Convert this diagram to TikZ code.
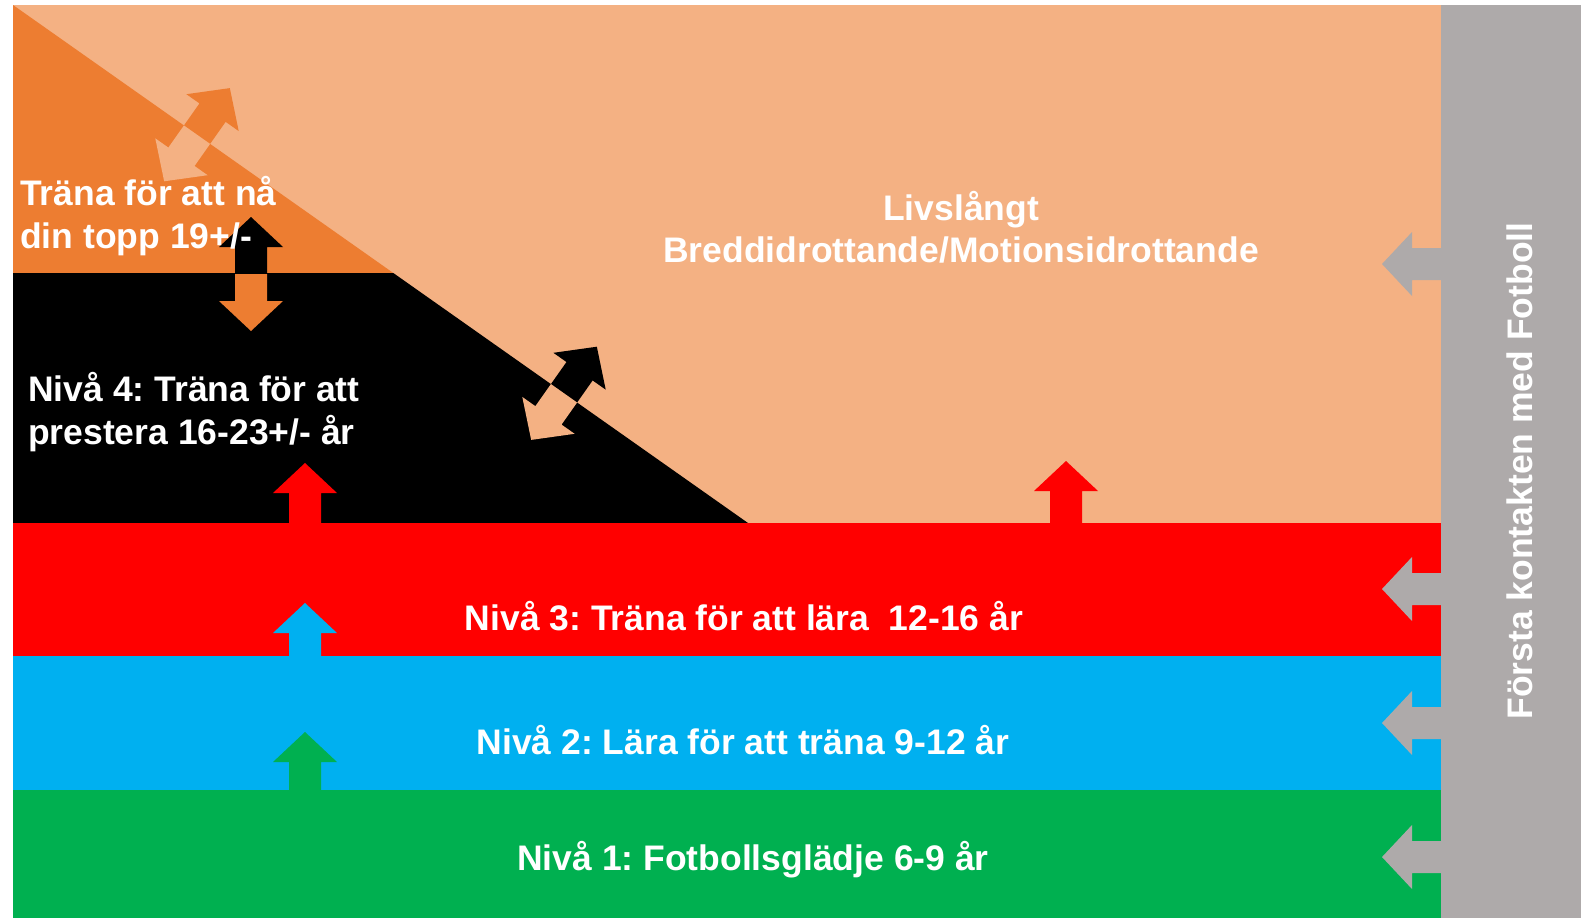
\documentclass[tikz,border=0pt]{standalone}
\usepackage{fontspec}
\setmainfont{Liberation Sans}
\frenchspacing
\definecolor{peach}{HTML}{F4B183}
\definecolor{dorange}{HTML}{ED7D31}
\definecolor{fred}{HTML}{FF0000}
\definecolor{fblue}{HTML}{00B0F0}
\definecolor{fgreen}{HTML}{00B050}
\definecolor{fgray}{HTML}{AEAAAA}
\tikzset{
  pics/uparr/.style={code={\fill[#1] (0,0) -- (32,30) -- (16,30) -- (16,90) -- (-16,90) -- (-16,30) -- (-32,30) -- cycle;}},
  pics/dblarr/.style 2 args={code={
    \fill[#1] (0,-57) -- (32,-27) -- (16,-27) -- (16,0) -- (-16,0) -- (-16,-27) -- (-32,-27) -- cycle;
    \fill[#2] (0,57) -- (32,27) -- (16,27) -- (16,0) -- (-16,0) -- (-16,27) -- (-32,27) -- cycle;}},
  lbl/.style={text=white, font=\bfseries\fontsize{35.5}{43}\selectfont, inner sep=0pt},
}
\begin{document}
\begin{tikzpicture}[x=1pt,y=-1pt]
\useasboundingbox (0,0) rectangle (1581,918);
\fill[white] (0,0) rectangle (1581,918);
% bands
\fill[peach] (13,5) rectangle (1441,523);
\fill[dorange] (13,5) -- (393.3,273) -- (13,273) -- cycle;
\fill[black] (13,273) -- (393.3,273) -- (748,523) -- (13,523) -- cycle;
\fill[fred] (13,523) rectangle (1441,656);
\fill[fblue] (13,656) rectangle (1441,790);
\fill[fgreen] (13,790) rectangle (1441,918);
% up arrows
\pic at (305,463) {uparr=fred};
\pic at (1066,461) {uparr=fred};
\pic at (305,603) {uparr=fblue};
\pic at (305,732) {uparr=fgreen};
% gray band and left arrows
\fill[fgray] (1441,5) rectangle (1581,918);
\pic[rotate=90] at (1382,264) {uparr=fgray};
\pic[rotate=90] at (1382,589) {uparr=fgray};
\pic[rotate=90] at (1382,723) {uparr=fgray};
\pic[rotate=90] at (1382,857) {uparr=fgray};
% double arrows
\pic at (251,274) {dblarr={black}{dorange}};
\pic[rotate=-35.17] at (197,134.7) {dblarr={dorange}{peach}};
\pic[rotate=-35.17] at (564,393.3) {dblarr={black}{peach}};
% texts
\node[lbl, anchor=base west] (t1a) at (20,205) {Träna för att nå};
\node[lbl, anchor=base west] (t1b) at (20,248) {din topp 19+/-};
\node[lbl, anchor=base] (liv1) at (961,220) {Livslångt};
\node[lbl, anchor=base] (liv2) at (961,262) {Breddidrottande/Motionsidrottande};
\node[lbl, anchor=base west] (n4a) at (28,401) {Nivå 4: Träna för att};
\node[lbl, anchor=base west] (n4b) at (28,444) {prestera 16-23+/- år};
\node[lbl, anchor=base] (n3) at (744,630) {Nivå 3: Träna för att lära\ \ 12-16 år};
\node[lbl, anchor=base] (n2) at (743,754) {Nivå 2: Lära för att träna 9-12 år};
\node[lbl, anchor=base] (n1) at (753,870) {Nivå 1: Fotbollsglädje 6-9 år};
\node[lbl, anchor=base, rotate=90] (fk) at (1532,471) {Första kontakten med Fotboll};
\end{tikzpicture}
\end{document}
